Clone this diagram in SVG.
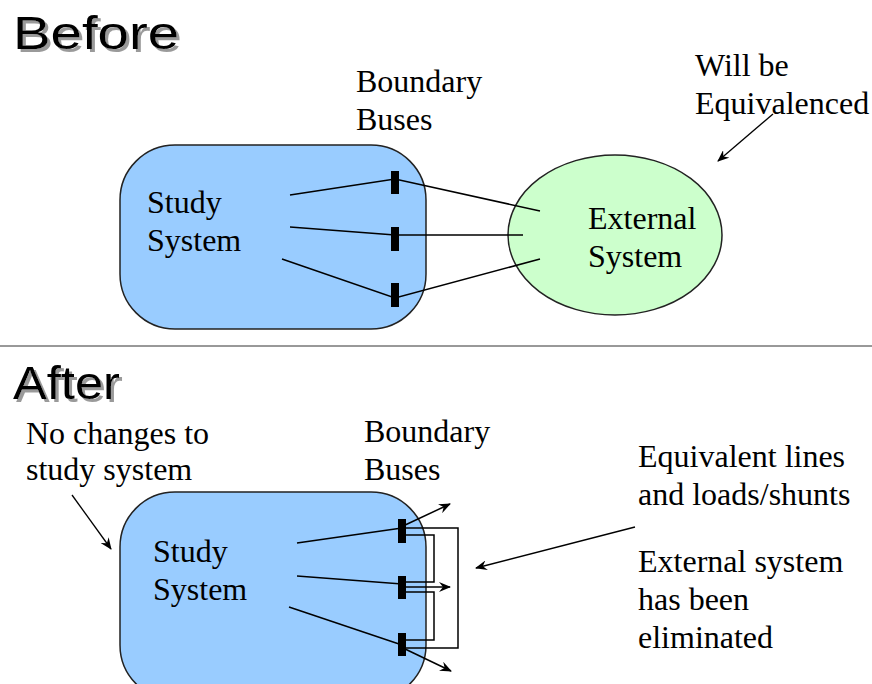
<svg xmlns="http://www.w3.org/2000/svg" width="872" height="684" viewBox="0 0 872 684">
  <defs>
    <marker id="arrow" viewBox="0 0 12 10" refX="11" refY="5" markerWidth="12" markerHeight="10" markerUnits="userSpaceOnUse" orient="auto">
      <path d="M0,0 L12,5 L0,10 L4,5 z" fill="#000"/>
    </marker>
    <!-- soft grey drop shadow for the section titles -->
    <filter id="titleShadow" x="-10%" y="-20%" width="130%" height="150%">
      <feFlood flood-color="#9a9a9a"/>
      <feComposite in2="SourceAlpha" operator="in"/>
      <feOffset dx="3" dy="3"/>
      <feGaussianBlur stdDeviation="0.7"/>
      <feMerge>
        <feMergeNode/>
        <feMergeNode in="SourceGraphic"/>
      </feMerge>
    </filter>
    <style>
      .label { font-family: "Liberation Serif", "Times New Roman", serif; font-size: 32px; fill: #000; }
      .title { font-family: "Liberation Sans", Arial, sans-serif; font-size: 47px; fill: #000; filter: url(#titleShadow); }
      .study { fill: #99ccff; stroke: #222; stroke-width: 1.5; }
      .ext { fill: #ccffcc; stroke: #222; stroke-width: 1.5; }
      .bus { fill: #000; }
      .wire { fill: none; stroke: #000; stroke-width: 1.5; }
      .callout { fill: none; stroke: #000; stroke-width: 1.3; }
    </style>
  </defs>
  <rect width="872" height="684" fill="#fff"/>

  <!-- Section titles -->
  <g id="title-before">
    <text class="title" x="13" y="49" textLength="166" lengthAdjust="spacingAndGlyphs">Before</text>
  </g>
  <g id="title-after">
    <text class="title" x="13" y="399" textLength="107" lengthAdjust="spacingAndGlyphs">After</text>
  </g>

  <!-- Divider between the two stages -->
  <line x1="0" y1="346" x2="872" y2="346" stroke="#333" stroke-width="1"/>

  <!-- ===== Before ===== -->
  <g id="study-before">
    <rect class="study" x="120" y="145" width="306" height="184" rx="55" ry="55"/>
    <text class="label" x="147" y="213">Study</text>
    <text class="label" x="147" y="251">System</text>
  </g>
  <g id="external-before">
    <ellipse class="ext" cx="615" cy="235" rx="107" ry="80"/>
    <text class="label" x="588" y="229">External</text>
    <text class="label" x="588" y="267">System</text>
  </g>
  <g id="connectors-before">
    <polyline class="wire" points="290,195 395,179 540,211"/>
    <polyline class="wire" points="290,227 395,235 523,235"/>
    <polyline class="wire" points="282,259 395,298 540,259"/>
    <line class="callout" x1="773" y1="114" x2="718" y2="161" marker-end="url(#arrow)"/>
  </g>
  <g id="buses-before">
    <rect class="bus" x="391" y="171" width="8" height="23"/>
    <rect class="bus" x="391" y="227" width="8" height="24"/>
    <rect class="bus" x="391" y="283" width="8" height="24"/>
  </g>
  <g id="labels-before">
    <text class="label" x="356" y="92">Boundary</text>
    <text class="label" x="356" y="130">Buses</text>
    <text class="label" x="695" y="76">Will be</text>
    <text class="label" x="695" y="114">Equivalenced</text>
  </g>

  <!-- ===== After ===== -->
  <g id="study-after">
    <rect class="study" x="120" y="492" width="306" height="208" rx="55" ry="55"/>
    <text class="label" x="153" y="562">Study</text>
    <text class="label" x="153" y="600">System</text>
  </g>
  <g id="connectors-after">
    <line class="wire" x1="297" y1="543" x2="402" y2="528"/>
    <line class="wire" x1="297" y1="576" x2="402" y2="584"/>
    <line class="wire" x1="289" y1="607" x2="402" y2="645"/>
    <!-- equivalent lines between boundary buses -->
    <polyline class="wire" points="402,528 458,528 458,648 402,648"/>
    <polyline class="wire" points="402,535 434,535 434,582 402,582"/>
    <polyline class="wire" points="402,592 434,592 434,640 402,640"/>
    <!-- equivalent loads / shunts -->
    <line class="wire" x1="403" y1="526" x2="450" y2="504" marker-end="url(#arrow)"/>
    <line class="wire" x1="403" y1="587" x2="450" y2="587" marker-end="url(#arrow)"/>
    <line class="wire" x1="403" y1="648" x2="451" y2="671" marker-end="url(#arrow)"/>
    <!-- callouts -->
    <line class="callout" x1="72" y1="495" x2="111" y2="549" marker-end="url(#arrow)"/>
    <line class="callout" x1="635" y1="527" x2="476" y2="568" marker-end="url(#arrow)"/>
  </g>
  <g id="buses-after">
    <rect class="bus" x="398" y="519" width="8" height="24"/>
    <rect class="bus" x="398" y="576" width="8" height="23"/>
    <rect class="bus" x="398" y="633" width="8" height="23"/>
  </g>
  <g id="labels-after">
    <text class="label" x="26" y="444">No changes to</text>
    <text class="label" x="26" y="480">study system</text>
    <text class="label" x="364" y="442">Boundary</text>
    <text class="label" x="364" y="480">Buses</text>
    <text class="label" x="638" y="467">Equivalent lines</text>
    <text class="label" x="638" y="505">and loads/shunts</text>
    <text class="label" x="638" y="572">External system</text>
    <text class="label" x="638" y="610">has been</text>
    <text class="label" x="638" y="648">eliminated</text>
  </g>
</svg>
